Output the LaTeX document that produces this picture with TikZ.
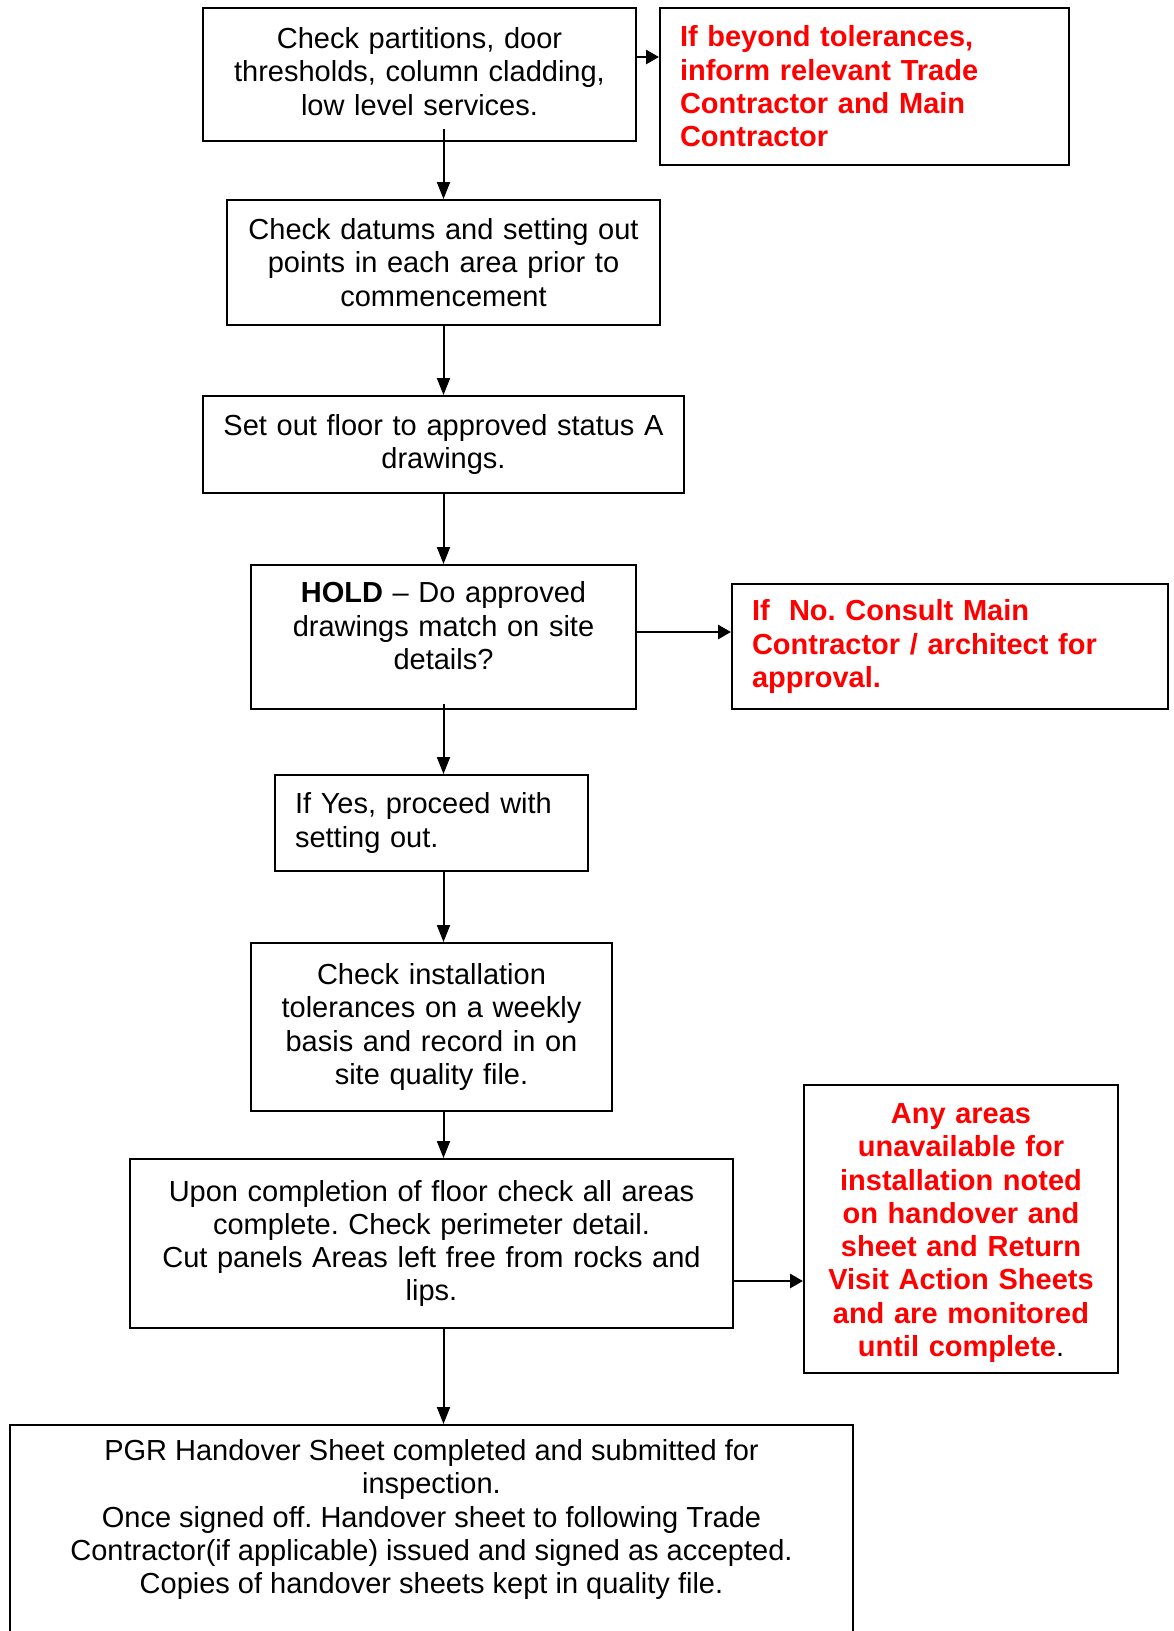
\documentclass[tikz,border=0pt]{standalone}
\usepackage{fontspec}
\setmainfont{Liberation Sans}
\usetikzlibrary{arrows.meta}
\frenchspacing

\begin{document}
\begin{tikzpicture}[x=1pt,y=-1pt]
\tikzset{box/.style={draw,line width=2pt,inner xsep=10pt,inner ysep=0pt,align=center,font=\fontsize{29}{33.3}\selectfont},
lbox/.style={box,inner xsep=20pt,align=left},
note/.style={text=red,font=\fontsize{29}{33.3}\selectfont\bfseries},
arr/.style={line width=2pt,-{Triangle[width=13pt,length=17pt]}},
harr/.style={line width=2.8pt,-{Triangle[width=14pt,length=13pt]}}}
\useasboundingbox (0,0) rectangle (1174,1631);
\clip (0,0) rectangle (1174,1631);

\node[box,text width=413pt,minimum height=133pt,text depth=73pt] (b1) at (419.5,74.5) {Check partitions, door\\thresholds, column cladding,\\low level services.};
\node[lbox,note,text width=369pt,minimum height=157pt] (r1) at (864.5,86.5) {If beyond tolerances,\\inform relevant Trade\\Contractor and Main\\Contractor};
\node[box,text width=413pt,minimum height=125pt] (b2) at (443.5,262.5) {Check datums and setting out\\points in each area prior to\\commencement};
\node[box,text width=461pt,minimum height=97pt] (b3) at (443.5,444.5) {Set out floor to approved status A\\drawings.};
\node[box,text width=365pt,minimum height=144pt,text depth=89.5pt] (b4) at (443.5,637) {\textbf{HOLD} -- Do approved\\drawings match on site\\details?};
\node[lbox,note,text width=396pt,minimum height=125pt] (r2) at (950,646.5) {If~~No. Consult Main\\Contractor / architect for\\approval.};
\node[lbox,text width=273pt,minimum height=96pt] (b5) at (431.5,823) {If Yes, proceed with\\setting out.};
\node[box,text width=341pt,minimum height=168pt] (b6) at (431.5,1027) {Check installation\\tolerances on a weekly\\basis and record in on\\site quality file.};
\node[box,text width=583pt,minimum height=169pt] (b7) at (431.5,1243.5) {Upon completion of floor check all areas\\complete. Check perimeter detail.\\Cut panels Areas left free from rocks and\\lips.};
\node[box,note,text width=294pt,minimum height=288pt,text depth=231pt] (r3) at (961,1229) {Any areas\\unavailable for\\installation noted\\on handover and\\sheet and Return\\Visit Action Sheets\\and are monitored\\until complete{\mdseries\color{black}.}};
\node[box,text width=823pt,minimum height=260pt,anchor=north] (b8) at (431.5,1424) {};
\node[align=center,font=\fontsize{29}{33.3}\selectfont] (b8t) at (431.5,1519.6) {PGR Handover Sheet completed and submitted for\\inspection.\\Once signed off. Handover sheet to following Trade\\Contractor(if applicable) issued and signed as accepted.\\Copies of handover sheets kept in quality file.};

\draw[arr] (b2 |- b1.south) ++(0,-13) -- (b2.north);
\draw[arr] (b2.south) -- (b3.north);
\draw[arr] (b3.south) -- (b4.north);
\draw[arr] (b4.south) ++(0,-6) -- (b4 |- b5.north);
\draw[arr] (b4 |- b5.south) -- (b4 |- b6.north);
\draw[arr] (b4 |- b6.south) -- (b4 |- b7.north);
\draw[arr] (b4 |- b7.south) -- (b4 |- b8.north);
\draw[harr] (b1.east) ++(0,-17.5) coordinate (t1) -- (t1 -| r1.west);
\draw[harr] (b4.east) ++(0,-5) coordinate (t2) -- (t2 -| r2.west);
\draw[harr] (b7.east) ++(0,37.5) coordinate (t3) -- (t3 -| r3.west);
\end{tikzpicture}
\end{document}
